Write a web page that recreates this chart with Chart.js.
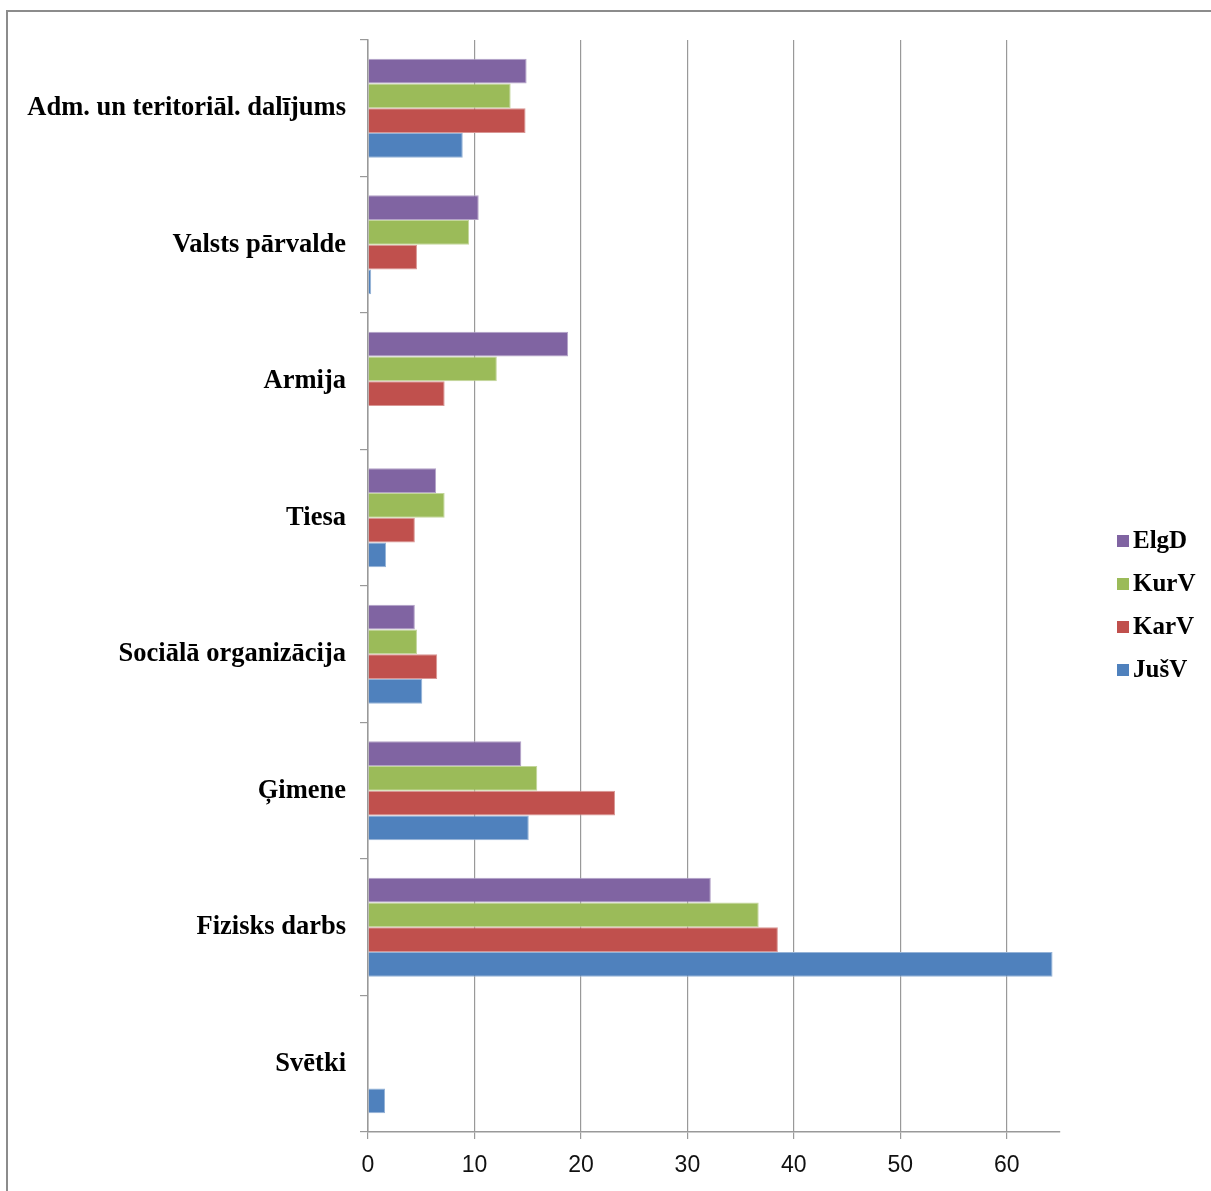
<!DOCTYPE html>
<html>
<head>
<meta charset="utf-8">
<script src="https://cdn.jsdelivr.net/npm/chart.js@4"></script>
<style>
  html, body { margin: 0; padding: 0; background: #fff; overflow: hidden; }
  #frame { position: absolute; left: 6px; top: 10px; width: 1400px; height: 1400px;
           border-left: 2px solid #8c8c8c; border-top: 2px solid #8c8c8c; }
  #wrap { position: absolute; left: 0; top: 0; width: 1211px; height: 1191px; }
</style>
</head>
<body>
<div id="frame"></div>
<div id="wrap"><canvas id="c" width="1211" height="1191"></canvas></div>
<script>
const categories = ["Adm. un teritoriāl. dalījums", "Valsts pārvalde", "Armija", "Tiesa",
                    "Sociālā organizācija", "Ģimene", "Fizisks darbs", "Svētki"];
const seriesNames = ["ElgD", "KurV", "KarV", "JušV"];
const elgD = [14.9, 10.4, 18.8, 6.4, 4.4, 14.4, 32.2, 0];
const kurV = [13.4, 9.5, 12.1, 7.2, 4.6, 15.9, 36.7, 0];
const karV = [14.8, 4.6, 7.2, 4.4, 6.5, 23.2, 38.5, 0];
const jusV = [8.9, 0.3, 0, 1.7, 5.1, 15.1, 64.3, 1.6];
const xTicks = [0, 10, 20, 30, 40, 50, 60];
const xMax = 65;

const colors = ["#8064A2", "#9BBB59", "#C0504D", "#4F81BD"];
const edges  = ["#b3a2c7", "#c3d69b", "#d99694", "#95b3d7"];
const values = [elgD, kurV, karV, jusV];

const legendPlugin = {
  id: 'sideLegend',
  afterDraw(chart) {
    const ctx = chart.ctx;
    ctx.save();
    ctx.font = 'bold 25px "Liberation Serif", "Times New Roman", serif';
    ctx.textBaseline = 'middle';
    ctx.textAlign = 'left';
    chart.data.datasets.forEach((ds, i) => {
      const y = 541 + i * 43;
      ctx.fillStyle = ds.backgroundColor;
      ctx.fillRect(1117, y - 6, 12, 12);
      ctx.fillStyle = '#000';
      ctx.fillText(ds.label, 1133, y + 1);
    });
    ctx.restore();
  }
};

new Chart(document.getElementById('c'), {
  type: 'bar',
  data: {
    labels: categories,
    datasets: seriesNames.map((n, i) => ({
      label: n,
      data: values[i],
      backgroundColor: colors[i],
      borderColor: edges[i],
      borderWidth: 1,
      barPercentage: 1,
      categoryPercentage: 0.725
    }))
  },
  options: {
    indexAxis: 'y',
    responsive: false,
    animation: false,
    layout: { padding: { left: 0, right: 151, top: 40, bottom: 0 } },
    plugins: { legend: { display: false }, tooltip: { enabled: false } },
    scales: {
      x: {
        min: 0, max: xMax,
        afterBuildTicks: s => { s.ticks = xTicks.map(v => ({ value: v })); },
        afterFit: s => { s.height = 59; },
        grid: { color: '#999999', lineWidth: 1.2, tickLength: 7, drawTicks: true },
        border: { color: '#999999', width: 1.5 },
        ticks: { color: '#111', padding: 13,
                 font: { family: '"Liberation Sans", Arial, sans-serif', size: 23 } }
      },
      y: {
        afterFit: s => { s.width = 368; },
        grid: { offset: true, drawOnChartArea: false, drawTicks: true, tickLength: 8, color: '#999999', lineWidth: 1.2 },
        border: { color: '#999999', width: 1.5 },
        ticks: { color: '#000', padding: 14,
                 font: { family: '"Liberation Serif", "Times New Roman", serif', size: 26.5, weight: 'bold' } }
      }
    }
  },
  plugins: [legendPlugin]
});
</script>
</body>
</html>
